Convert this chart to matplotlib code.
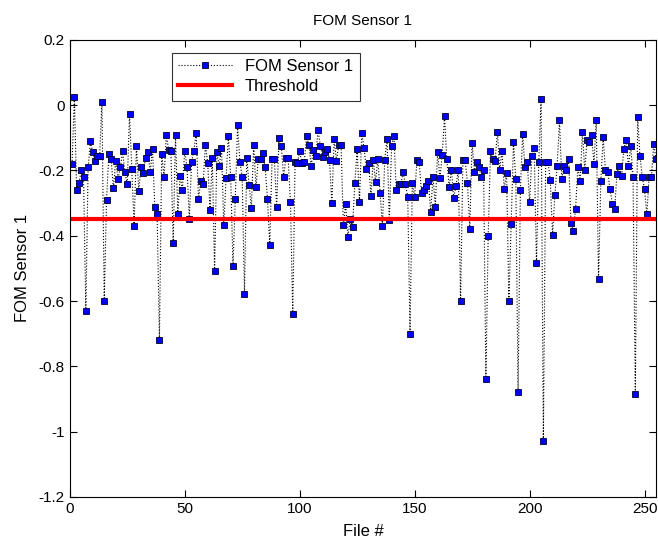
import numpy as np
import matplotlib
matplotlib.use("Agg")
import matplotlib.pyplot as plt

plt.rcParams['font.family'] = ['Liberation Sans', 'DejaVu Sans']
plt.rcParams['axes.unicode_minus'] = False

# FOM values per file
fom = [
    -0.18, 0.025, -0.26, -0.24, -0.20, -0.22, -0.63, -0.19, -0.11, -0.145,
    -0.17, -0.155, -0.155, 0.01, -0.60, -0.29, -0.15, -0.165, -0.255, -0.17,
    -0.227, -0.191, -0.142, -0.204, -0.243, -0.028, -0.197, -0.369, -0.125, -0.262,
    -0.19, -0.208, -0.161, -0.143, -0.206, -0.133, -0.312, -0.334, -0.72, -0.149,
    -0.221, -0.092, -0.137, -0.142, -0.421, -0.092, -0.333, -0.218, -0.259, -0.139,
    -0.19, -0.349, -0.173, -0.139, -0.086, -0.288, -0.231, -0.242, -0.122, -0.177,
    -0.32, -0.161, -0.507, -0.145, -0.186, -0.131, -0.368, -0.224, -0.094, -0.22,
    -0.492, -0.287, -0.061, -0.174, -0.219, -0.58, -0.161, -0.246, -0.314, -0.123,
    -0.252, -0.166, -0.166, -0.148, -0.191, -0.287, -0.428, -0.166, -0.166, -0.313,
    -0.10, -0.124, -0.219, -0.163, -0.163, -0.297, -0.64, -0.174, -0.176, -0.142,
    -0.178, -0.173, -0.094, -0.122, -0.186, -0.137, -0.156, -0.077, -0.124, -0.158,
    -0.144, -0.133, -0.167, -0.301, -0.104, -0.170, -0.122, -0.122, -0.368, -0.302,
    -0.404, -0.349, -0.372, -0.239, -0.135, -0.298, -0.086, -0.131, -0.196, -0.178,
    -0.278, -0.168, -0.234, -0.166, -0.268, -0.371, -0.167, -0.103, -0.353, -0.124,
    -0.093, -0.26, -0.242, -0.242, -0.205, -0.242, -0.28, -0.70, -0.238, -0.282,
    -0.167, -0.174, -0.27, -0.26, -0.249, -0.231, -0.326, -0.219, -0.312, -0.144,
    -0.223, -0.154, -0.034, -0.166, -0.251, -0.198, -0.285, -0.247, -0.20, -0.60,
    -0.168, -0.168, -0.24, -0.378, -0.116, -0.204, -0.174, -0.19, -0.219, -0.20,
    -0.84, -0.40, -0.14, -0.164, -0.171, -0.082, -0.20, -0.14, -0.258, -0.207,
    -0.60, -0.365, -0.112, -0.227, -0.88, -0.26, -0.087, -0.191, -0.173, -0.298,
    -0.156, -0.13, -0.485, -0.173, 0.018, -1.03, -0.174, -0.174, -0.23, -0.397,
    -0.275, -0.186, -0.046, -0.225, -0.185, -0.198, -0.165, -0.36, -0.386, -0.319,
    -0.189, -0.233, -0.082, -0.20, -0.106, -0.112, -0.092, -0.179, -0.045, -0.533,
    -0.231, -0.098, -0.198, -0.205, -0.257, -0.302, -0.319, -0.21, -0.185, -0.218,
    -0.135, -0.108, -0.186, -0.125, -0.219, -0.885, -0.035, -0.155, -0.22, -0.258,
    -0.334, -0.22, -0.22, -0.118, -0.166,
]
files = np.arange(1, len(fom) + 1)
threshold = -0.35

yticks = [0.2, 0, -0.2, -0.4, -0.6, -0.8, -1, -1.2]
ytick_labels = ['0.2', '0', '-0.2', '-0.4', '-0.6', '-0.8', '-1', '-1.2']
xticks = [0, 50, 100, 150, 200, 250]

fig = plt.figure(figsize=(6.58, 5.46), dpi=100)
ax = fig.add_axes([0.106, 0.09, 0.891, 0.837])

ax.plot(files, fom, color='black', linestyle=':', linewidth=0.8,
        marker='s', markersize=4.5, markerfacecolor='#0000ff',
        markeredgecolor='#000033', markeredgewidth=0.6, label='FOM Sensor 1')
ax.plot([0, 255], [threshold, threshold], color='red', linewidth=3,
        label='Threshold')

ax.set_xlim(0, 255)
ax.set_ylim(-1.2, 0.2)
ax.set_xticks(xticks)
ax.set_yticks(yticks)
ax.set_yticklabels(ytick_labels)
ax.tick_params(direction='in', top=True, right=True, labelsize=11, length=5)

ax.set_title('FOM Sensor 1', fontsize=11, pad=11)
ax.set_xlabel('File #', fontsize=12, labelpad=6)
ax.set_ylabel('FOM Sensor 1', fontsize=12, labelpad=6)

leg = ax.legend(loc='upper left', bbox_to_anchor=(0.174, 0.972), fontsize=12,
                borderaxespad=0, frameon=True, fancybox=False,
                edgecolor='black', handlelength=3.2, borderpad=0.4,
                labelspacing=0.3)
leg.get_frame().set_linewidth(0.8)

fig.savefig('out.png', dpi=100)
